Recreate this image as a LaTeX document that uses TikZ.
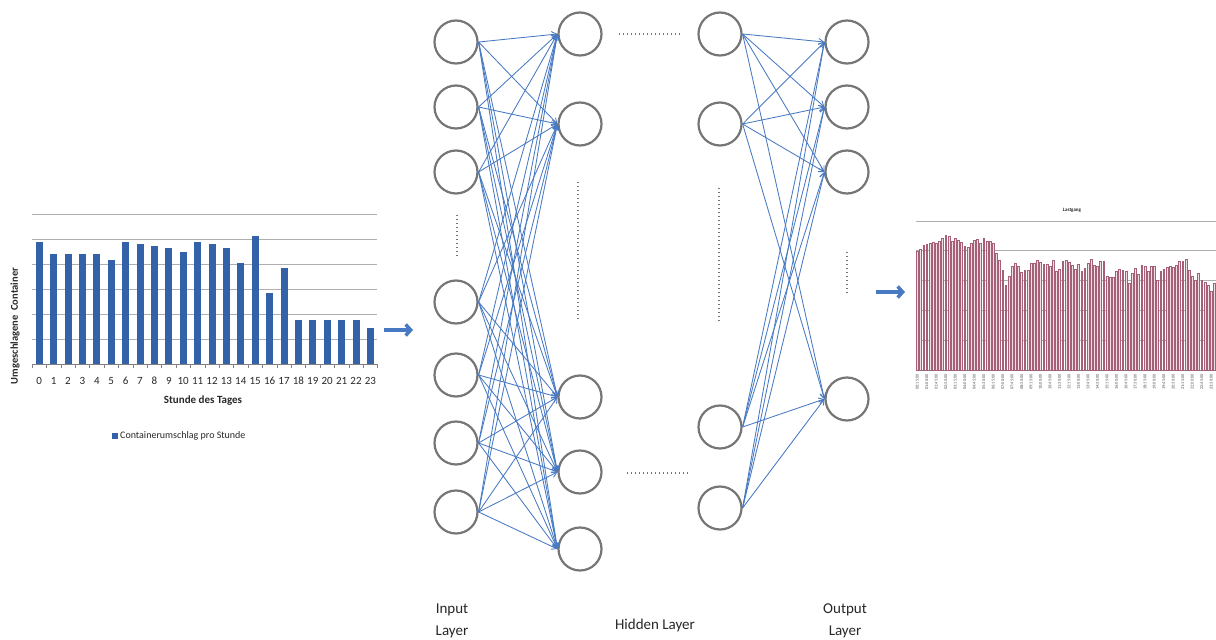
\documentclass[tikz,border=0pt]{standalone}
\usepackage{fontspec}
\setmainfont{Carlito}
\usetikzlibrary{arrows.meta}
\definecolor{netblue}{RGB}{72,122,196}
\definecolor{circgray}{RGB}{118,118,118}
\definecolor{barblue}{RGB}{52,98,168}
\definecolor{gridgray}{RGB}{175,175,175}
\definecolor{lastfill}{RGB}{240,224,230}
\definecolor{lastdraw}{RGB}{165,95,118}
\definecolor{txt}{RGB}{40,40,40}
\begin{document}
\begin{tikzpicture}[x=1pt,y=-1pt,
  neuron/.style={circle, draw=circgray, line width=2.2pt, fill=white, minimum size=43pt, inner sep=0pt},
  conn/.style={netblue, line width=0.85pt, -{Straight Barb[length=5pt,width=6pt]}},
  dotline/.style={circgray, line width=1.6pt, dash pattern=on 1.4pt off 2.6pt},
  bigarrow/.style={netblue, line width=3.5pt, -{Straight Barb[length=5pt,width=11pt]}},
  lbl/.style={font=\fontsize{15}{22}\selectfont, text=txt},
  grid/.style={gridgray, line width=0.8pt},
]
\useasboundingbox (0,0) rectangle (1216,640);
\fill[white] (0,0) rectangle (1216,640);

% ---------------- left bar chart ----------------
\foreach \gy in {214,239,264,289,314,339} \draw[grid] (32,\gy) -- (377,\gy);
\draw[gray, line width=0.8pt] (32,364) -- (377,364);
\foreach \i in {0,...,24} \draw[gray, line width=0.6pt] ({32+14.4*\i},364) -- ++(0,4);
\foreach \v [count=\i from 0] in {4.87,4.4,4.4,4.4,4.4,4.16,4.87,4.8,4.72,4.63,4.49,4.87,4.8,4.63,4.05,5.12,2.85,3.83,1.76,1.76,1.76,1.76,1.76,1.43} {
  \fill[barblue] ({32+14.4*\i+3.7},364) rectangle ++(7,{-25*\v});
}
\foreach \i in {0,...,23} \node[font=\fontsize{11}{12}\selectfont, text=txt, inner sep=0pt] (xl\i) at ({32+14.4*\i+7.2},381) {\i};
\node[font=\fontsize{11}{13}\selectfont\bfseries, text=txt] (xt) at (203,401) {Stunde des Tages};
\node[font=\fontsize{10.5}{12}\selectfont\bfseries, text=txt, rotate=90] (yt) at (15,326) {Umgeschlagene\ \ Container};
\fill[barblue] (112,433) rectangle (118,439);
\node[font=\fontsize{10}{11}\selectfont, text=txt, anchor=west, inner sep=0pt] (leg) at (120,436) {Containerumschlag pro Stunde};

% ---------------- right chart ----------------
\foreach \gy in {221,250,280,310,340} \draw[grid, line width=0.6pt] (916,\gy) -- (1216,\gy);
\draw[gray, line width=0.6pt] (916,370) -- (1216,370);
\foreach \tp [count=\k from 0] in {185,178,165,163,160,158,160,155,145,135,138,155,145,150,158,170,172,160,150,148,160,145,155,155,160,190,210,240,285,260,230,220,230,248,240,240,220,220,212,218,222,222,228,210,245,237,215,212,218,225,238,222,243,235,220,208,225,230,215,215,258,262,262,245,238,242,245,280,250,235,252,225,230,245,230,230,270,245,238,232,230,232,225,215,215,208,240,258,270,250,272,278,285,305,280} {
  \filldraw[fill=lastfill, draw=lastdraw, line width=0.4pt] ({917.3+3.16*\k-0.9},370) rectangle ({917.3+3.16*\k+0.9},{190+\tp/3});
}
\foreach \lab [count=\j from 0] in {00:15:00,01:00:00,01:45:00,02:30:00,03:15:00,04:00:00,04:45:00,05:30:00,06:15:00,07:00:00,07:45:00,08:30:00,09:15:00,10:00:00,10:45:00,11:30:00,12:15:00,13:00:00,13:45:00,14:30:00,15:15:00,16:00:00,16:45:00,17:30:00,18:15:00,19:00:00,19:45:00,20:30:00,21:15:00,22:00:00,22:45:00,23:30:00} {
  \node[rotate=90, anchor=east, font=\fontsize{4.3}{5}\selectfont, text=txt!80, inner sep=0pt] (tl\j) at ({917.3+3.16*3*\j},374) {\lab};
}
\node[font=\fontsize{5}{6}\selectfont\bfseries, text=txt] (lg) at (1072,210) {Lastgang};

% ---------------- network ----------------
\foreach \yy [count=\n] in {42,107,172,302,375,443,512} \node[neuron] (i\n) at (456,\yy) {};
\foreach \yy [count=\n] in {34,124,397,472,549} \node[neuron] (h\n) at (580,\yy) {};
\foreach \yy [count=\n] in {34,124,427,508} \node[neuron] (g\n) at (720,\yy) {};
\foreach \yy [count=\n] in {42,107,172,399} \node[neuron] (o\n) at (847,\yy) {};

\foreach \a in {1,...,7} \foreach \b in {1,...,5} \draw[conn] (i\a.east) -- (h\b.west);
\foreach \a in {1,...,4} \foreach \b in {1,...,4} \draw[conn] (g\a.east) -- (o\b.west);

% dotted ellipses
\draw[dotline] (457,215) -- (457,258);
\draw[dotline] (578,182) -- (578,320);
\draw[dotline] (719,188) -- (719,321);
\draw[dotline] (847,252) -- (847,294);
\draw[dotline] (619,34) -- (680,34);
\draw[dotline] (627,473) -- (689,473);

% big arrows
\coordinate (la1) at (384,330); \coordinate (la2) at (413,330);
\draw[bigarrow] (la1) -- (la2);
\coordinate (ra1) at (876,292); \coordinate (ra2) at (905,292);
\draw[bigarrow] (ra1) -- (ra2);

% labels
\node[lbl, align=center] (inl) at (452,621) {Input\\Layer};
\node[lbl] (hdl) at (655,625) {Hidden Layer};
\node[lbl, align=center] (outl) at (845,621) {Output\\Layer};
\end{tikzpicture}
\end{document}
